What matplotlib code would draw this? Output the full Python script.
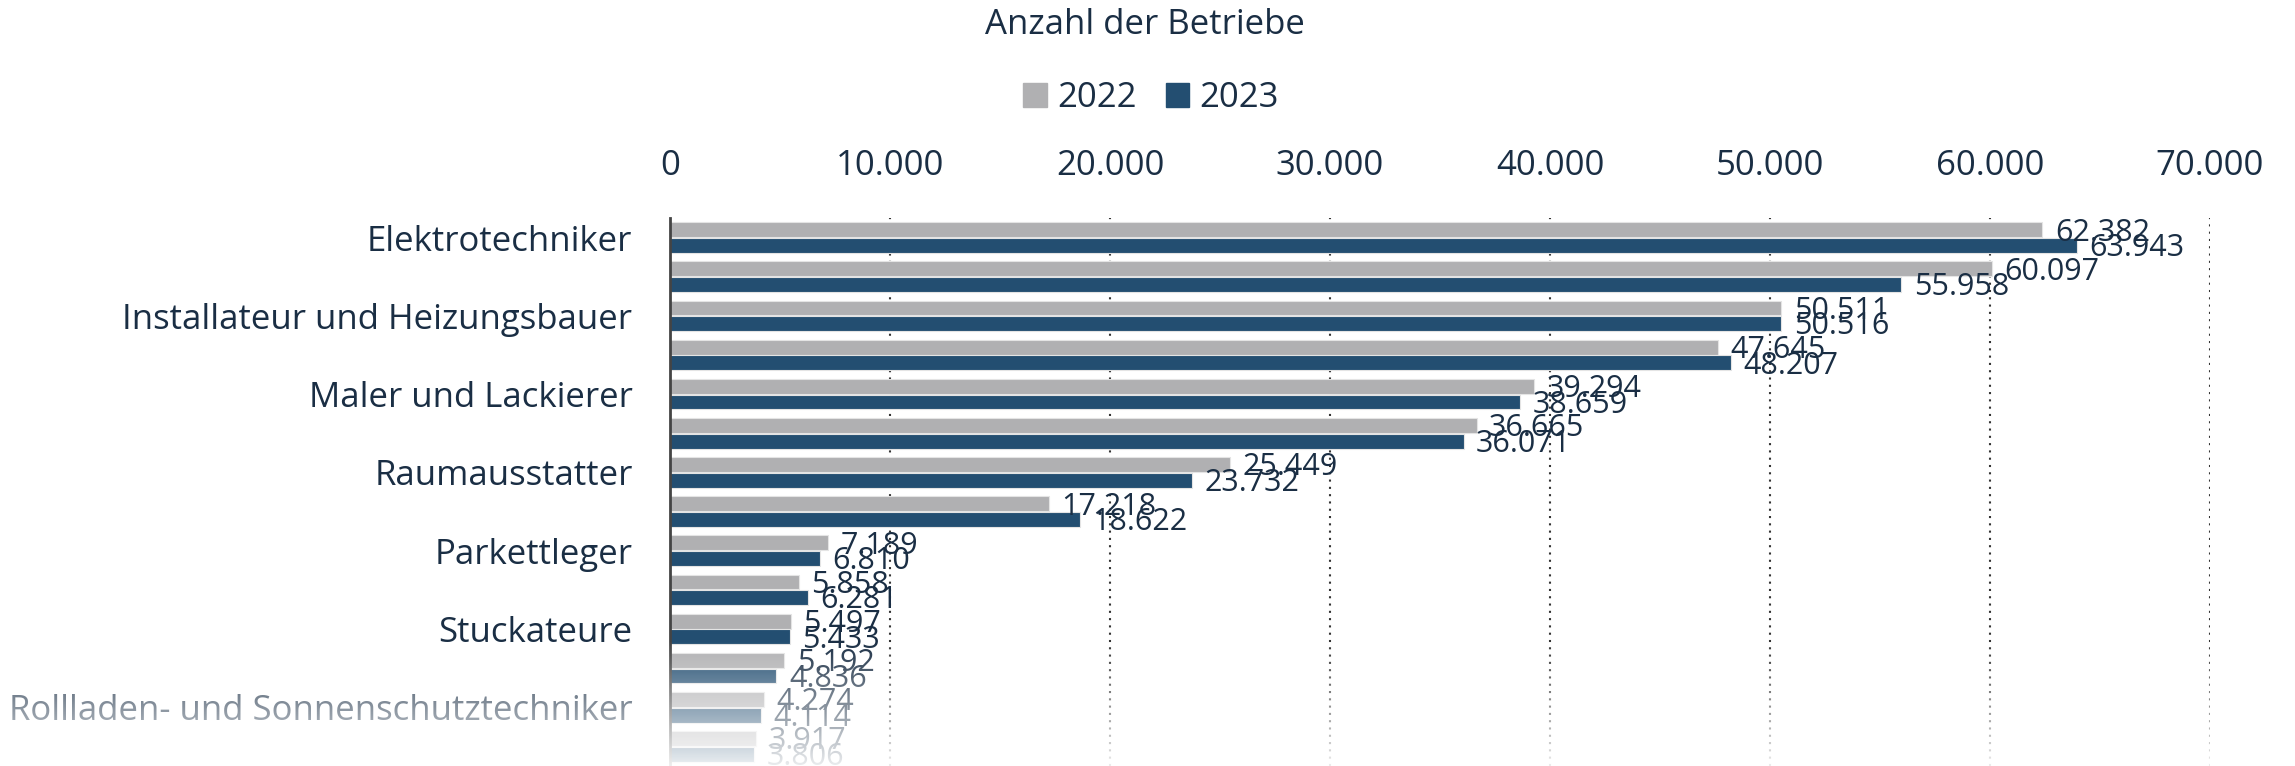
import numpy as np
import matplotlib
matplotlib.use("Agg")
import matplotlib.pyplot as plt
from matplotlib.patches import Patch

plt.rcParams['font.family'] = ['Open Sans', 'DejaVu Sans']

# Daten
labels = ["Elektrotechniker", "Installateur und Heizungsbauer", "Maler und Lackierer",
          "Raumausstatter", "Parkettleger", "Stuckateure",
          "Rollladen- und Sonnenschutztechniker"]
werte_2022 = [62382, 60097, 50511, 47645, 39294, 36665, 25449, 17218,
              7189, 5858, 5497, 5192, 4274, 3917]
werte_2023 = [63943, 55958, 50516, 48207, 38659, 36071, 23732, 18622,
              6810, 6281, 5433, 4836, 4114, 3806]
xticks = [0, 10000, 20000, 30000, 40000, 50000, 60000, 70000]

grau = "#b0b0b2"
blau = "#234e71"
text = "#1a2e44"

fig = plt.figure(figsize=(22.95, 7.66), dpi=100)
ax = fig.add_axes([670/2295, 0, (2210-670)/2295, 1-218/766])

n = len(werte_2022)
y = np.arange(n)
h = 0.38
b1 = ax.barh(y - 0.2, werte_2022, height=h, color=grau, edgecolor="#e4e4e4", linewidth=0.8, zorder=2)
b2 = ax.barh(y + 0.2, werte_2023, height=h, color=blau, edgecolor="#e4e4e4", linewidth=0.8, zorder=2)

fmt = lambda v: f"{v:,.0f}".replace(",", ".")
for b in (b1, b2):
    lab = ax.bar_label(b, fmt=fmt, padding=9, fontsize=22, color=text)
    for t in lab:
        t.set_va("center")
        t.xyann = (9, -2)

ax.set_ylim(n - 0.5, -0.5)
ax.set_xlim(0, 70000)
ax.set_yticks(y[::2])
ax.set_yticklabels(labels, fontsize=25, color=text)
ax.tick_params(axis="y", length=0, pad=27)

ax.xaxis.tick_top()
ax.set_xticks(xticks)
ax.set_xticklabels([fmt(v) for v in xticks], fontsize=25, color=text)
ax.tick_params(axis="x", length=0, pad=25)

ax.grid(axis="x", color="#333333", linestyle=(0, (1, 2.5)), linewidth=1.5, zorder=0)
for s in ["top", "right", "bottom"]:
    ax.spines[s].set_visible(False)
ax.spines["left"].set_color("#444444")
ax.spines["left"].set_linewidth(2)
ax.spines["left"].set_zorder(3)

fig.text(1145/2295, 1-25/766, "Anzahl der Betriebe", ha="center", va="center", fontsize=25, color=text)
handles = [Patch(color=grau, label="2022"), Patch(color=blau, label="2023")]
fig.legend(handles=handles, loc="center", bbox_to_anchor=(1151/2295, 1-98/766), ncol=2,
           frameon=False, fontsize=25, handlelength=0.68, handleheight=0.68,
           handletextpad=0.28, columnspacing=0.85, labelcolor=text)

# Ausblenden nach unten
ov = fig.add_axes([0, 0, 1, 1], zorder=10)
ov.axis("off")
rows = 766
alpha = np.clip((np.arange(rows) - 640) / (766 - 640), 0, 1) * 0.92
grad = np.ones((rows, 1, 4))
grad[:, 0, 3] = alpha
ov.imshow(grad, aspect="auto", extent=[0, 1, 0, 1], origin="upper")
ov.set_xlim(0, 1)
ov.set_ylim(0, 1)

fig.savefig("out.png", dpi=100)
